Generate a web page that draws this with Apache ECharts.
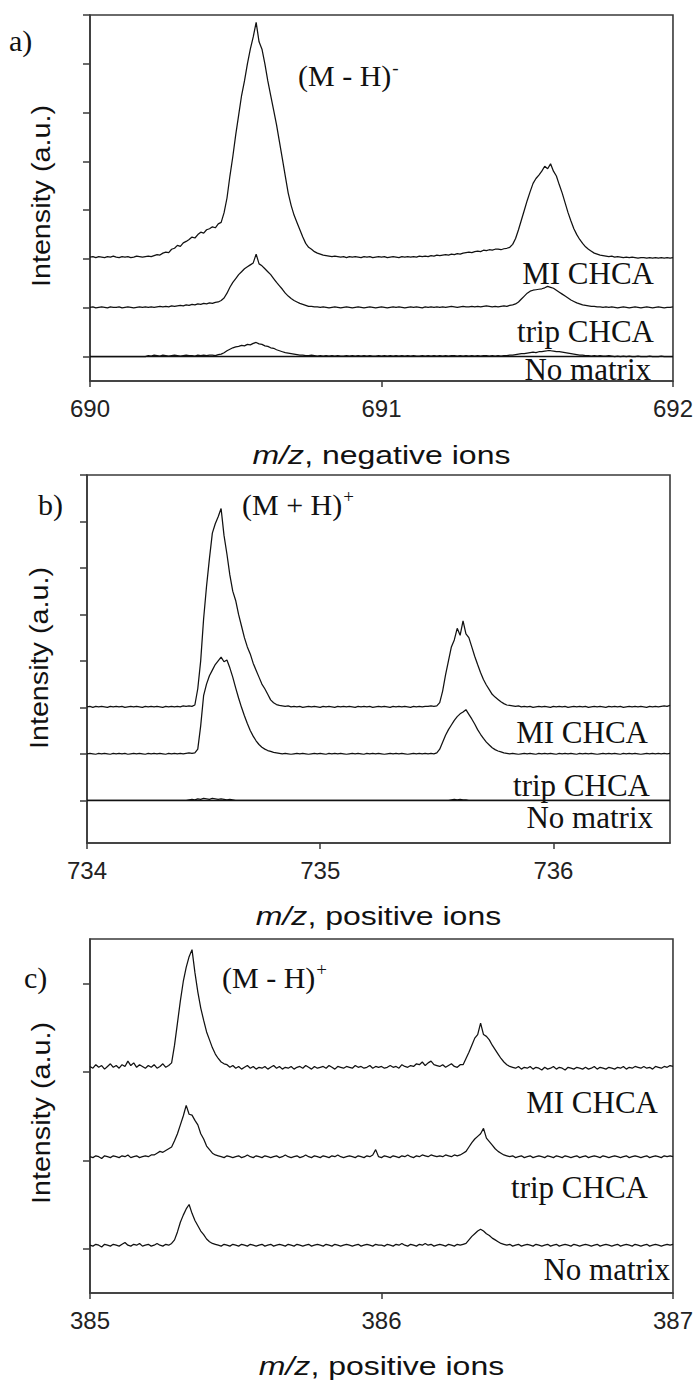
<!DOCTYPE html>
<html><head><meta charset="utf-8">
<script src="https://cdn.jsdelivr.net/npm/echarts@6/dist/echarts.min.js"></script>
<style>html,body{margin:0;padding:0;background:#fff}#c{width:696px;height:1380px}</style>
</head><body><div id="c"></div>
<script>
// ---------- Panel a: negative ions, m/z 690-692, sampled every 0.01 ----------
const mzA0 = 690, mzAStep = 0.01;
const aTicksX = [690, 691, 692];
const aTicksY = [0, 1, 2, 3, 4, 5, 6, 7];
const aMI = [
2.04,2.05,2.03,2.05,2.04,2.03,2.05,2.04,2.06,2.04,
2.03,2.05,2.04,2.05,2.03,2.04,2.06,2.05,2.04,2.05,
2.06,2.05,2.07,2.09,2.08,2.12,2.14,2.13,2.2,2.22,
2.28,2.26,2.33,2.36,2.4,2.45,2.43,2.5,2.55,2.53,
2.6,2.62,2.66,2.64,2.72,2.75,2.95,3.25,3.7,4.1,
4.55,4.95,5.35,5.65,6.0,6.3,6.55,6.85,6.45,6.3,
6.0,5.65,5.35,5.05,4.75,4.4,4.05,3.7,3.35,3.1,
2.9,2.75,2.6,2.45,2.32,2.24,2.2,2.15,2.12,2.1,
2.08,2.07,2.06,2.05,2.06,2.05,2.04,2.05,2.03,2.05,
2.04,2.05,2.04,2.03,2.05,2.04,2.05,2.03,2.04,2.05,
2.04,2.05,2.03,2.04,2.05,2.04,2.03,2.05,2.04,2.05,
2.04,2.05,2.04,2.06,2.05,2.06,2.05,2.07,2.06,2.08,
2.07,2.08,2.09,2.08,2.1,2.09,2.11,2.1,2.12,2.13,
2.14,2.13,2.15,2.16,2.15,2.18,2.17,2.19,2.18,2.2,
2.2,2.19,2.21,2.22,2.24,2.3,2.42,2.6,2.8,3.0,
3.2,3.38,3.55,3.65,3.72,3.8,3.9,3.85,3.95,3.8,
3.7,3.52,3.35,3.15,2.95,2.78,2.62,2.5,2.4,2.32,
2.25,2.2,2.16,2.12,2.1,2.08,2.07,2.06,2.05,2.06,
2.04,2.05,2.04,2.03,2.04,2.03,2.04,2.03,2.02,2.03,
2.03,2.02,2.03,2.02,2.03,2.02,2.03,2.02,2.03,2.02,2.03];
const aTrip = [
1.01,1.02,1.0,1.01,1.02,1.01,1.0,1.02,1.01,1.01,
1.02,1.0,1.01,1.02,1.01,1.0,1.01,1.02,1.01,1.02,
1.01,1.02,1.01,1.02,1.03,1.02,1.03,1.02,1.04,1.03,
1.04,1.05,1.04,1.06,1.05,1.07,1.06,1.08,1.07,1.09,
1.08,1.1,1.09,1.11,1.12,1.15,1.2,1.3,1.42,1.52,
1.6,1.68,1.74,1.8,1.84,1.88,1.92,2.1,1.9,1.86,
1.8,1.74,1.68,1.6,1.52,1.45,1.38,1.3,1.24,1.19,
1.15,1.12,1.09,1.07,1.05,1.03,1.03,1.02,1.02,1.01,
1.02,1.01,1.0,1.01,1.02,1.01,1.0,1.01,1.02,1.01,
1.0,1.01,1.02,1.01,1.0,1.01,1.02,1.01,1.0,1.01,
1.02,1.01,1.0,1.01,1.02,1.01,1.02,1.01,1.0,1.01,
1.02,1.01,1.02,1.01,1.0,1.02,1.01,1.02,1.01,1.02,
1.01,1.02,1.01,1.02,1.03,1.02,1.01,1.02,1.03,1.02,
1.02,1.03,1.02,1.03,1.02,1.03,1.04,1.03,1.02,1.03,
1.02,1.03,1.04,1.03,1.05,1.06,1.08,1.12,1.18,1.24,
1.3,1.34,1.36,1.37,1.38,1.39,1.41,1.44,1.42,1.4,
1.36,1.32,1.28,1.24,1.2,1.16,1.13,1.1,1.08,1.06,
1.05,1.04,1.03,1.03,1.02,1.02,1.01,1.02,1.01,1.02,
1.01,1.0,1.01,1.02,1.01,1.0,1.01,1.02,1.01,1.0,
1.01,1.02,1.01,1.0,1.01,1.02,1.01,1.0,1.01,1.01,1.02];
const aNone = [
0,0,0,0,0,0,0,0,0,0,
0,0,0,0,0,0,0,0,0,0,
0.02,0.01,0.03,0.02,0.01,0.03,0.02,0.01,0.02,0.03,
0.02,0.01,0.02,0.03,0.02,0.02,0.01,0.03,0.02,0.03,
0.02,0.03,0.03,0.02,0.04,0.05,0.08,0.12,0.15,0.18,
0.2,0.21,0.23,0.22,0.25,0.24,0.27,0.29,0.26,0.25,
0.22,0.21,0.18,0.17,0.14,0.12,0.1,0.08,0.07,0.06,
0.05,0.04,0.03,0.03,0.02,0.02,0.03,0.02,0.01,0.02,
0.01,0.02,0.01,0.02,0.01,0.02,0.01,0.01,0.02,0.01,
0.02,0.01,0.02,0.01,0.02,0.01,0.02,0.01,0.01,0.02,
0.01,0.02,0.01,0.02,0.01,0.02,0.01,0.02,0.01,0.02,
0.01,0.02,0.01,0.01,0.02,0.01,0.02,0.01,0.02,0.01,
0.02,0.01,0.02,0.01,0.02,0.02,0.01,0.02,0.01,0.02,
0.01,0.02,0.01,0.02,0.01,0.02,0.02,0.01,0.02,0.01,
0.02,0.01,0.02,0.02,0.03,0.03,0.04,0.05,0.06,0.06,
0.07,0.08,0.09,0.08,0.1,0.1,0.11,0.12,0.12,0.11,
0.1,0.1,0.09,0.08,0.07,0.06,0.05,0.04,0.03,0.03,
0.02,0.02,0.01,0.02,0.01,0.02,0.01,0.01,0.02,0.01,
0,0.01,0,0.01,0,0.01,0,0,0.01,0,
0,0,0.01,0,0,0,0.01,0,0,0,0];

// ---------- Panel b: positive ions, m/z 734-736.5, sampled every 0.0125 ----------
const mzB0 = 734, mzBStep = 0.0125;
const bTicksX = [734, 735, 736];
const bTicksY = [0, 1, 2, 3, 4, 5, 6, 7];
const bMI = [
2.01,2.02,2.0,2.02,2.01,2.02,2.01,2.0,2.02,2.01,
2.02,2.01,2.02,2.0,2.01,2.02,2.01,2.02,2.01,2.0,
2.02,2.01,2.02,2.01,2.02,2.01,2.0,2.02,2.01,2.02,
2.01,2.02,2.01,2.03,2.02,2.03,2.02,2.05,2.4,3.0,
3.9,4.6,5.2,5.75,5.95,6.1,6.28,5.7,5.3,4.85,
4.5,4.3,4.0,3.75,3.5,3.3,3.15,2.95,2.8,2.65,
2.5,2.4,2.28,2.16,2.1,2.06,2.04,2.03,2.02,2.03,
2.01,2.02,2.01,2.02,2.0,2.01,2.02,2.01,2.02,2.01,
2.0,2.02,2.01,2.02,2.01,2.0,2.02,2.01,2.02,2.01,
2.02,2.01,2.0,2.02,2.01,2.02,2.01,2.02,2.0,2.01,
2.02,2.01,2.02,2.01,2.0,2.02,2.01,2.02,2.01,2.02,
2.01,2.0,2.02,2.01,2.02,2.01,2.02,2.02,2.03,2.02,
2.03,2.1,2.35,2.7,3.0,3.3,3.45,3.7,3.55,3.86,
3.58,3.5,3.3,3.1,2.92,2.75,2.6,2.48,2.38,2.28,
2.22,2.17,2.12,2.08,2.05,2.04,2.03,2.02,2.03,2.01,
2.02,2.01,2.02,2.0,2.01,2.02,2.01,2.02,2.01,2.0,
2.02,2.01,2.02,2.01,2.02,2.0,2.01,2.02,2.01,2.02,
2.01,2.02,2.0,2.01,2.02,2.01,2.02,2.01,2.0,2.02,
2.01,2.02,2.01,2.02,2.0,2.01,2.02,2.01,2.02,2.01,
2.02,2.01,2.0,2.02,2.01,2.02,2.01,2.02,2.03,2.02,2.04];
const bTrip = [
1.0,1.01,1.0,0.99,1.01,1.0,1.01,1.0,0.99,1.01,
1.0,1.01,1.0,1.01,0.99,1.0,1.01,1.0,1.01,1.0,
0.99,1.01,1.0,1.01,1.0,1.01,1.0,0.99,1.01,1.0,
1.01,1.0,1.01,1.0,1.01,1.02,1.01,1.02,1.1,1.6,
2.25,2.5,2.68,2.8,2.92,3.0,3.08,2.98,3.02,2.85,
2.65,2.42,2.2,2.0,1.82,1.65,1.5,1.38,1.28,1.2,
1.14,1.1,1.07,1.05,1.03,1.02,1.01,1.0,1.01,1.0,
0.99,1.0,1.01,1.0,1.01,1.0,0.99,1.0,1.01,1.0,
1.01,1.0,0.99,1.01,1.0,1.01,1.0,1.01,1.0,0.99,
1.0,1.01,1.0,1.01,1.0,0.99,1.01,1.0,1.01,1.0,
1.01,1.0,0.99,1.0,1.01,1.0,1.01,1.0,1.01,1.0,
0.99,1.0,1.01,1.0,1.01,1.0,1.01,1.0,1.01,1.0,
1.02,1.1,1.25,1.4,1.52,1.62,1.72,1.8,1.86,1.9,
1.95,1.85,1.75,1.64,1.52,1.42,1.33,1.25,1.19,1.13,
1.09,1.06,1.04,1.02,1.01,1.0,1.01,1.0,0.99,1.0,
1.01,1.0,1.01,1.0,0.99,1.01,1.0,1.01,1.0,1.01,
1.0,0.99,1.01,1.0,1.01,1.0,1.01,1.0,0.99,1.01,
1.0,1.01,1.0,1.01,1.0,0.99,1.0,1.01,1.0,1.01,
1.0,1.01,1.0,0.99,1.01,1.0,1.01,1.0,1.01,1.0,
0.99,1.0,1.01,1.0,1.01,1.0,1.01,1.0,1.01,1.0,1.01];
const bNone = [
0,0,0,0,0,0,0,0,0,0,
0,0,0,0,0,0,0,0,0,0,
0,0,0,0,0,0,0,0,0,0,
0,0,0,0,0,0.01,0.02,0.01,0.03,0.02,
0.04,0.03,0.02,0.04,0.03,0.02,0.03,0.02,0.01,0.02,
0.01,0,0,0,0,0,0,0,0,0,
0,0,0,0,0,0,0,0,0,0,
0,0,0,0,0,0,0,0,0,0,
0,0,0,0,0,0,0,0,0,0,
0,0,0,0,0,0,0,0,0,0,
0,0,0,0,0,0,0,0,0,0,
0,0,0,0,0,0,0,0,0,0,
0,0,0,0,0,0.01,0.02,0.01,0.02,0.01,
0.01,0,0,0,0,0,0,0,0,0,
0,0,0,0,0,0,0,0,0,0,
0,0,0,0,0,0,0,0,0,0,
0,0,0,0,0,0,0,0,0,0,
0,0,0,0,0,0,0,0,0,0,
0,0,0,0,0,0,0,0,0,0,
0,0,0,0,0,0,0,0,0,0,0];

// ---------- Panel c: positive ions, m/z 385-387, sampled every 0.01 ----------
const mzC0 = 385, mzCStep = 0.01;
const cTicksX = [385, 386, 387];
const cTicksY = [0, 1, 2, 3];
const cMI = [
2.06,2.04,2.08,2.05,2.07,2.03,2.06,2.09,2.05,2.07,
2.04,2.08,2.06,2.12,2.07,2.1,2.05,2.08,2.06,2.04,
2.07,2.05,2.08,2.04,2.06,2.09,2.05,2.07,2.1,2.3,
2.55,2.8,3.02,3.18,3.3,3.38,3.12,2.9,2.72,2.58,
2.45,2.36,2.27,2.2,2.15,2.11,2.09,2.08,2.05,2.07,
2.04,2.06,2.03,2.05,2.07,2.04,2.06,2.03,2.05,2.04,
2.06,2.03,2.05,2.07,2.04,2.06,2.03,2.05,2.04,2.06,
2.03,2.05,2.06,2.04,2.07,2.05,2.03,2.06,2.04,2.05,
2.06,2.04,2.07,2.05,2.03,2.06,2.05,2.04,2.06,2.05,
2.04,2.07,2.05,2.06,2.04,2.05,2.07,2.04,2.06,2.05,
2.06,2.04,2.05,2.07,2.05,2.06,2.04,2.08,2.06,2.05,
2.07,2.06,2.09,2.08,2.11,2.07,2.1,2.12,2.08,2.07,
2.06,2.08,2.05,2.07,2.09,2.06,2.05,2.08,2.08,2.15,
2.22,2.3,2.38,2.42,2.55,2.42,2.4,2.36,2.3,2.25,
2.2,2.15,2.11,2.08,2.06,2.05,2.04,2.06,2.03,2.05,
2.04,2.06,2.03,2.05,2.04,2.02,2.05,2.03,2.04,2.06,
2.03,2.05,2.04,2.02,2.05,2.04,2.03,2.05,2.04,2.03,
2.05,2.03,2.04,2.06,2.03,2.05,2.04,2.03,2.05,2.04,
2.03,2.05,2.04,2.06,2.03,2.05,2.04,2.06,2.05,2.04,
2.06,2.04,2.05,2.03,2.06,2.05,2.04,2.06,2.05,2.07,2.06];
const cTrip = [
1.04,1.03,1.05,1.04,1.02,1.05,1.04,1.03,1.05,1.04,
1.03,1.05,1.04,1.06,1.03,1.04,1.05,1.03,1.04,1.05,
1.04,1.06,1.06,1.08,1.1,1.09,1.11,1.13,1.15,1.22,
1.3,1.4,1.5,1.62,1.52,1.51,1.45,1.4,1.3,1.24,
1.16,1.12,1.08,1.06,1.05,1.04,1.03,1.05,1.04,1.03,
1.04,1.05,1.03,1.04,1.06,1.04,1.03,1.05,1.04,1.03,
1.05,1.04,1.03,1.04,1.05,1.03,1.04,1.06,1.04,1.03,
1.04,1.05,1.03,1.04,1.06,1.04,1.03,1.05,1.04,1.03,
1.05,1.04,1.03,1.05,1.04,1.06,1.04,1.03,1.04,1.05,
1.04,1.03,1.05,1.04,1.03,1.05,1.04,1.06,1.12,1.04,
1.03,1.05,1.04,1.03,1.05,1.04,1.03,1.05,1.04,1.06,
1.04,1.03,1.05,1.04,1.06,1.05,1.04,1.06,1.05,1.04,
1.05,1.04,1.06,1.05,1.04,1.06,1.05,1.06,1.08,1.1,
1.15,1.2,1.24,1.27,1.3,1.36,1.25,1.21,1.17,1.13,
1.1,1.08,1.06,1.05,1.04,1.05,1.03,1.04,1.05,1.03,
1.04,1.05,1.03,1.04,1.05,1.04,1.03,1.05,1.04,1.03,
1.05,1.04,1.03,1.05,1.04,1.03,1.04,1.05,1.03,1.04,
1.05,1.03,1.04,1.05,1.04,1.03,1.05,1.04,1.03,1.04,
1.05,1.04,1.03,1.04,1.05,1.03,1.04,1.05,1.04,1.03,
1.04,1.05,1.03,1.04,1.05,1.04,1.03,1.05,1.04,1.05,1.04];
const cNone = [
0.04,0.03,0.05,0.04,0.02,0.05,0.04,0.03,0.05,0.04,
0.03,0.05,0.07,0.04,0.03,0.05,0.04,0.06,0.03,0.04,
0.05,0.03,0.04,0.06,0.04,0.03,0.05,0.04,0.06,0.1,
0.19,0.3,0.38,0.45,0.5,0.4,0.32,0.26,0.2,0.16,
0.11,0.08,0.06,0.05,0.04,0.03,0.05,0.04,0.03,0.05,
0.04,0.03,0.05,0.04,0.03,0.05,0.04,0.03,0.04,0.05,
0.03,0.04,0.05,0.03,0.04,0.05,0.04,0.03,0.05,0.04,
0.03,0.05,0.04,0.03,0.04,0.05,0.03,0.04,0.05,0.04,
0.03,0.05,0.04,0.03,0.05,0.04,0.03,0.04,0.05,0.04,
0.03,0.04,0.05,0.03,0.04,0.05,0.04,0.03,0.05,0.04,
0.04,0.03,0.05,0.04,0.03,0.05,0.04,0.06,0.04,0.03,
0.05,0.04,0.03,0.05,0.04,0.06,0.04,0.05,0.03,0.04,
0.05,0.04,0.03,0.05,0.04,0.03,0.05,0.04,0.05,0.06,
0.1,0.14,0.17,0.2,0.22,0.2,0.17,0.15,0.12,0.1,
0.08,0.06,0.05,0.04,0.05,0.03,0.04,0.05,0.03,0.04,
0.05,0.04,0.03,0.05,0.04,0.03,0.04,0.05,0.03,0.04,
0.05,0.03,0.04,0.05,0.04,0.03,0.05,0.04,0.03,0.04,
0.05,0.04,0.03,0.04,0.05,0.03,0.04,0.05,0.04,0.03,
0.04,0.05,0.03,0.04,0.05,0.04,0.03,0.05,0.04,0.03,
0.04,0.05,0.03,0.04,0.05,0.04,0.03,0.04,0.05,0.04,0.05];

const traceNames = ['MI CHCA', 'trip CHCA', 'No matrix'];
const panelLetters = ['a)', 'b)', 'c)'];
const ionLabels = [['(M - H)', '-'], ['(M + H)', '+'], ['(M - H)', '+']];
const xTitles = ['negative ions', 'positive ions', 'positive ions'];
const yTitle = 'Intensity (a.u.)';

function pairs(x0, step, ys) { return ys.map((y, i) => [+(x0 + i * step).toFixed(5), y]); }

const INK = '#111', AX = '#3a3a3a';
const grids = [
  {left: 90, top: 15, width: 583, height: 366},
  {left: 87, top: 475, width: 583, height: 368},
  {left: 90, top: 939, width: 583, height: 354}
];
const xr = [[690, 692, aTicksX], [734, 736.5, bTicksX], [385, 387, cTicksX]];
const yr = [[-0.5, 7, aTicksY], [-0.92, 7, bTicksY], [-0.5, 3.5, cTicksY]];

const option = {
  animation: false,
  backgroundColor: '#fff',
  grid: grids.map(g => Object.assign({show: true, borderColor: AX, borderWidth: 1.6, backgroundColor: 'transparent'}, g)),
  xAxis: xr.map((r, k) => ({
    type: 'value', gridIndex: k, min: r[0], max: r[1],
    axisLine: {show: true, onZero: false, lineStyle: {color: AX, width: 1.6}},
    axisTick: {show: true, inside: false, length: 6, customValues: r[2], lineStyle: {color: AX, width: 1.5}},
    axisLabel: {show: true, customValues: r[2], margin: 15, fontSize: 24, fontFamily: 'Liberation Sans', color: '#222'},
    splitLine: {show: false}
  })),
  yAxis: yr.map((r, k) => ({
    type: 'value', gridIndex: k, min: r[0], max: r[1],
    axisLine: {show: true, onZero: false, lineStyle: {color: AX, width: 1.6}},
    axisTick: {show: true, inside: false, length: 7, customValues: r[2], lineStyle: {color: AX, width: 1.5}},
    axisLabel: {show: false},
    splitLine: {show: false}
  })),
  series: [],
  graphic: []
};

const panelData = [
  [pairs(mzA0, mzAStep, aMI), pairs(mzA0, mzAStep, aTrip), pairs(mzA0, mzAStep, aNone)],
  [pairs(mzB0, mzBStep, bMI), pairs(mzB0, mzBStep, bTrip), pairs(mzB0, mzBStep, bNone)],
  [pairs(mzC0, mzCStep, cMI), pairs(mzC0, mzCStep, cTrip), pairs(mzC0, mzCStep, cNone)]
];
panelData.forEach((sets, k) => {
  sets.forEach((d, j) => {
    const s = {
      type: 'line', name: traceNames[j], xAxisIndex: k, yAxisIndex: k, data: d,
      showSymbol: false, symbol: 'none', silent: true, clip: true,
      lineStyle: {color: INK, width: 1.25}
    };
    if (j === 2 && k < 2) {
      s.markLine = {silent: true, symbol: 'none', label: {show: false},
        lineStyle: {color: INK, width: 1.3, type: 'solid'}, data: [{yAxis: 0}]};
    }
    option.series.push(s);
  });
});

const SERIF = 'Liberation Serif', SANS = 'Liberation Sans';
function txt(x, y, text, o) {
  return Object.assign({type: 'text', x: x, y: y, silent: true,
    style: Object.assign({text: text, fill: INK, fontFamily: SERIF, fontSize: 31,
      align: 'left', verticalAlign: 'middle', textAlign: 'left', textVerticalAlign: 'middle'}, o.style || {})},
    o.el || {});
}
// layout positions of texts (pixels)
const letterPos = [[9, 40], [38, 504], [24, 977]];
const ionPos = [[298, 75], [242, 504], [222, 977]];
const namePos = [[[654, 273], [654, 331], [651, 369]], [[648, 732], [650, 785], [653, 817]], [[658, 1102], [648, 1187], [670, 1269]]];
const xTitleY = [455, 916, 1366];
const yTitleC = [[42, 196], [40, 658], [42, 1113]];

for (let k = 0; k < 3; k++) {
  option.graphic.push(txt(letterPos[k][0], letterPos[k][1], panelLetters[k], {style: {fontSize: 30}}));
  option.graphic.push(txt(ionPos[k][0], ionPos[k][1], ionLabels[k][0] + '{sup|' + ionLabels[k][1] + '}', {
    style: {fontSize: 30, rich: {sup: {fontFamily: SERIF, fontSize: 19, fill: INK, verticalAlign: 'top', padding: [0, 0, 15, 1]}}}
  }));
  for (let j = 0; j < 3; j++) {
    option.graphic.push(txt(namePos[k][j][0], namePos[k][j][1], traceNames[j], {
      style: {align: 'right', textAlign: 'right', lineHeight: 26}
    }));
  }
  option.graphic.push(txt(grids[k].left + grids[k].width / 2, xTitleY[k], '{i|m/z}, ' + xTitles[k], {
    style: {fontFamily: SANS, fontSize: 25, fill: '#111', align: 'center', textAlign: 'center',
      rich: {i: {fontFamily: SANS, fontSize: 25, fontStyle: 'italic', fill: '#111'}}},
    el: {scaleX: 1.28}
  }));
  option.graphic.push(txt(yTitleC[k][0], yTitleC[k][1], yTitle, {
    style: {fontFamily: SANS, fontSize: 25, fill: '#111', align: 'center', textAlign: 'center'},
    el: {rotation: Math.PI / 2, scaleX: 1.15}
  }));
}

const chart = echarts.init(document.getElementById('c'), null, {renderer: 'svg', width: 696, height: 1380});
chart.setOption(option);
</script></body></html>
